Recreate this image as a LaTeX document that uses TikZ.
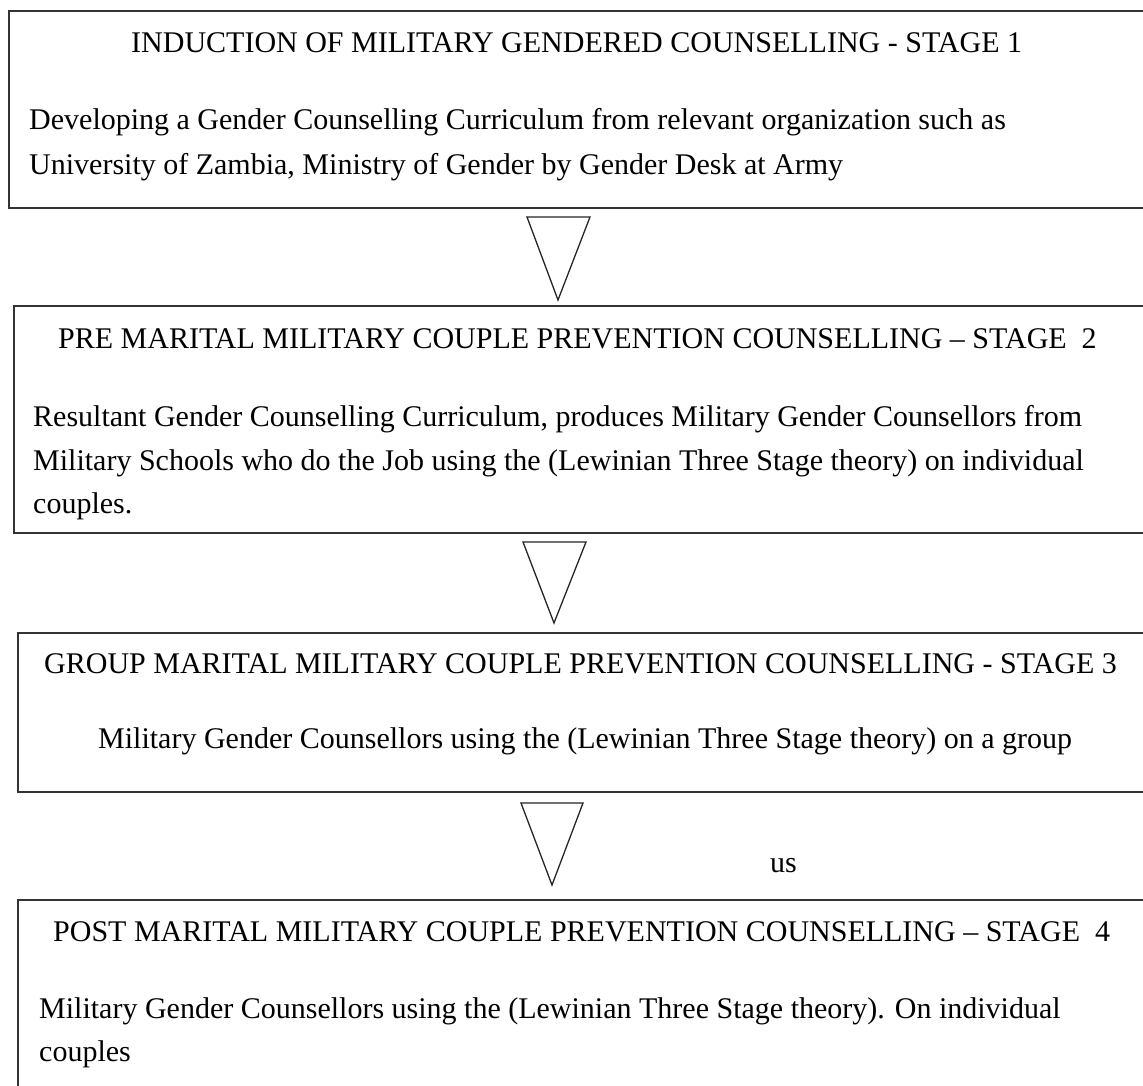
\documentclass[tikz,border=0pt]{standalone}
\usepackage{fontspec}
\setmainfont{Liberation Serif}
\begin{document}
\begin{tikzpicture}[x=1pt,y=-1pt,
  stagebox/.style={draw=black!80, line width=1.6pt, rectangle, inner sep=0pt, anchor=north west},
  txt/.style={inner sep=0pt, font=\fontsize{30}{45}\selectfont, anchor=base west},
  arrowtri/.style={draw=black!85, line width=1.3pt, line join=miter}]
\useasboundingbox (0,0) rectangle (1143,1086);
\clip (0,0) rectangle (1143,1086);
\fill[white] (0,0) rectangle (1143,1086);
% boxes
\node[stagebox, minimum width=1152pt, minimum height=197pt] (b1) at (8,10) {};
\node[stagebox, minimum width=1147pt, minimum height=227pt] (b2) at (13,305) {};
\node[stagebox, minimum width=1143pt, minimum height=159pt] (b3) at (17,632) {};
\node[stagebox, minimum width=1143pt, minimum height=220pt] (b4) at (17,899) {};
% texts
\node[txt] (t1) at (131,53) {INDUCTION OF MILITARY GENDERED COUNSELLING - STAGE 1};
\node[txt] (d1a) at (29,130) {Developing a Gender Counselling Curriculum from relevant organization such as};
\node[txt] (d1b) at (29,175) {University of Zambia, Ministry of Gender by Gender Desk at Army};
\node[txt] (t2) at (58,348) {PRE MARITAL MILITARY COUPLE PREVENTION COUNSELLING – STAGE\ \ 2};
\node[txt] (d2a) at (33,426) {Resultant Gender Counselling Curriculum, produces Military Gender Counsellors from};
\node[txt] (d2b) at (33,470) {Military Schools who do the Job using the (Lewinian Three Stage theory) on individual};
\node[txt] (d2c) at (33,513) {couples.};
\node[txt] (t3) at (44,673) {GROUP MARITAL MILITARY COUPLE PREVENTION COUNSELLING - STAGE 3};
\node[txt] (d3) at (98,748) {Military Gender Counsellors using the (Lewinian Three Stage theory) on a group};
\node[txt] (us) at (770,872) {us};
\node[txt] (t4) at (53,941) {POST MARITAL MILITARY COUPLE PREVENTION COUNSELLING – STAGE\ \ 4};
\node[txt] (d4a) at (39,1018) {Military Gender Counsellors using the (Lewinian Three Stage theory). On individual};
\node[txt] (d4b) at (39,1061) {couples};
% hollow block arrows
\draw[arrowtri] (527,217) -- (590,217) -- (558,300) -- cycle;
\draw[arrowtri] (523,542) -- (586,542) -- (554,623) -- cycle;
\draw[arrowtri] (521,803) -- (583,803) -- (552,885) -- cycle;
\end{tikzpicture}
\end{document}
